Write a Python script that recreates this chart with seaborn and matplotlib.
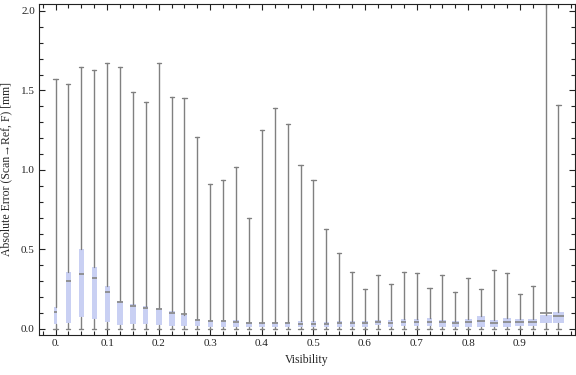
import matplotlib
matplotlib.use("Agg")
import matplotlib.pyplot as plt
from matplotlib.ticker import MultipleLocator, FixedLocator
import seaborn as sns

# visibility bins (box centres)
visibility = [0.0, 0.025, 0.05, 0.075, 0.1, 0.125, 0.15, 0.175, 0.2, 0.225,
              0.25, 0.275, 0.3, 0.325, 0.35, 0.375, 0.4, 0.425, 0.45, 0.475,
              0.5, 0.525, 0.55, 0.575, 0.6, 0.625, 0.65, 0.675, 0.7, 0.725,
              0.75, 0.775, 0.8, 0.825, 0.85, 0.875, 0.9, 0.925, 0.95, 0.975]

# whisker ends, quartiles and medians [mm]
whis_hi = [1.57, 1.54, 1.65, 1.63, 1.67, 1.65, 1.49, 1.43, 1.67, 1.46,
           1.45, 1.21, 0.91, 0.94, 1.02, 0.70, 1.25, 1.39, 1.29, 1.03,
           0.94, 0.63, 0.48, 0.36, 0.25, 0.34, 0.28, 0.36, 0.35, 0.26,
           0.34, 0.23, 0.32, 0.25, 0.37, 0.35, 0.22, 0.27, 2.10, 1.41]
whis_lo = [0.002] * 40
q3 = [0.140, 0.357, 0.503, 0.390, 0.270, 0.178, 0.159, 0.145, 0.132, 0.114,
      0.090, 0.063, 0.057, 0.057, 0.057, 0.046, 0.040, 0.046, 0.046, 0.050,
      0.050, 0.044, 0.050, 0.048, 0.052, 0.058, 0.056, 0.063, 0.060, 0.069,
      0.057, 0.048, 0.063, 0.082, 0.057, 0.067, 0.063, 0.063, 0.088, 0.107]
q1 = [0.031, 0.040, 0.075, 0.063, 0.046, 0.025, 0.031, 0.031, 0.027, 0.021,
      0.021, 0.017, 0.015, 0.015, 0.015, 0.015, 0.015, 0.015, 0.015, 0.011,
      0.011, 0.011, 0.015, 0.015, 0.015, 0.023, 0.015, 0.017, 0.019, 0.019,
      0.015, 0.015, 0.015, 0.015, 0.015, 0.015, 0.019, 0.019, 0.040, 0.040]
median = [0.109, 0.300, 0.344, 0.323, 0.235, 0.172, 0.143, 0.134, 0.126, 0.099,
          0.095, 0.057, 0.050, 0.048, 0.046, 0.040, 0.036, 0.036, 0.036, 0.034,
          0.034, 0.034, 0.036, 0.036, 0.038, 0.042, 0.040, 0.044, 0.042, 0.046,
          0.044, 0.038, 0.042, 0.050, 0.040, 0.046, 0.044, 0.044, 0.103, 0.084]
# relative sample size per bin (drives box width)
rel_count = [0.20, 0.29, 0.29, 0.33, 0.33, 0.38, 0.35, 0.35, 0.42, 0.42,
             0.42, 0.35, 0.35, 0.35, 0.35, 0.42, 0.44, 0.38, 0.35, 0.38,
             0.35, 0.35, 0.31, 0.31, 0.35, 0.35, 0.35, 0.35, 0.38, 0.38,
             0.47, 0.47, 0.50, 0.56, 0.53, 0.65, 0.68, 0.71, 1.00, 0.97]

x_ticks = [0.0, 0.1, 0.2, 0.3, 0.4, 0.5, 0.6, 0.7, 0.8, 0.9]
x_labels = ["0.", "0.1", "0.2", "0.3", "0.4", "0.5", "0.6", "0.7", "0.8", "0.9"]
y_ticks = [0.0, 0.5, 1.0, 1.5, 2.0]

sns.set_theme(style="ticks")
plt.rcParams["font.family"] = ["Liberation Serif", "DejaVu Serif"]

fig = plt.figure(figsize=(5.76, 3.75), dpi=100)
ax = fig.add_axes([39 / 576, 40 / 375, 536 / 576, 331 / 375])

stats = [dict(med=m, q1=a, q3=b, whislo=lo, whishi=hi, fliers=[])
         for m, a, b, lo, hi in zip(median, q1, q3, whis_lo, whis_hi)]
max_w = 0.0235
ax.bxp(stats, positions=visibility, widths=[max_w * (0.15 + r) / 1.15 for r in rel_count],
       capwidths=0.008, patch_artist=True, showfliers=False, manage_ticks=False,
       boxprops=dict(facecolor="#c9d0f3", edgecolor="none", linewidth=0),
       whiskerprops=dict(color="#808080", linewidth=1.0),
       capprops=dict(color="#808080", linewidth=1.0),
       medianprops=dict(color="#8a8a8a", linewidth=1.4, alpha=0.9))

ax.set_xlim(-0.032, 1.007)
ax.set_ylim(-0.038, 2.044)

ax.xaxis.set_major_locator(FixedLocator(x_ticks))
ax.set_xticklabels(x_labels)
ax.xaxis.set_minor_locator(MultipleLocator(0.025))
ax.yaxis.set_major_locator(FixedLocator(y_ticks))
ax.set_yticklabels([f"{v:.1f}" for v in y_ticks])
ax.yaxis.set_minor_locator(MultipleLocator(0.1))

ax.tick_params(which="both", direction="in", top=True, right=True,
               labelsize=8, colors="#222222", width=0.8, pad=3)
ax.tick_params(which="major", length=4.5)
ax.tick_params(which="minor", length=3)
for s in ax.spines.values():
    s.set_visible(True)
    s.set_color("#222222")
    s.set_linewidth(0.8)

ax.set_xlabel("Visibility", fontsize=8.5, labelpad=4)
ax.set_ylabel("Absolute Error (Scan→Ref, F) [mm]", fontsize=8.5, labelpad=6)
ax.grid(False)

fig.savefig("out.png", dpi=100)
plt.close(fig)
